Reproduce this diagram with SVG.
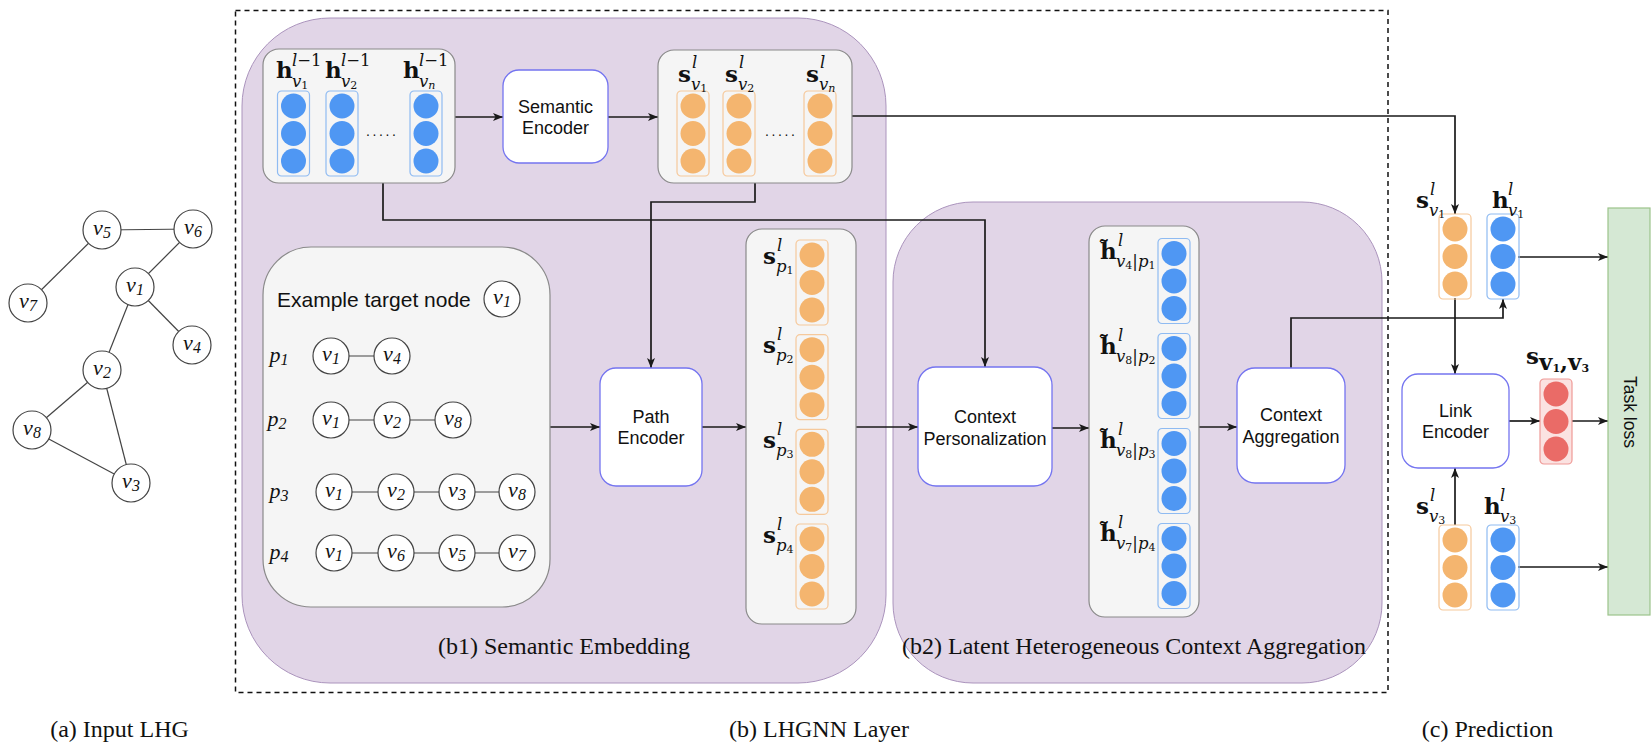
<svg xmlns="http://www.w3.org/2000/svg" xmlns:xlink="http://www.w3.org/1999/xlink" width="1651" height="744" viewBox="0 0 1651 744">
  <defs>
    <style>
      .panel { fill: #e1d5e7; stroke: #ab94bd; stroke-width: 1; }
      .gbox { fill: #f5f5f5; stroke: #8a8a8a; stroke-width: 1.2; }
      .enc { fill: #ffffff; stroke: #7474f0; stroke-width: 1.3; }
      .bcol { fill: none; stroke: #8fbbf2; stroke-width: 1.2; }
      .ocol { fill: none; stroke: #f6c99c; stroke-width: 1.2; }
      .rcol { fill: #fbe2e1; stroke: #ef9a97; stroke-width: 1.2; }
      .bdot { fill: #4f97f3; }
      .odot { fill: #f4b56f; }
      .rdot { fill: #ea6b67; }
      .sans { font-family: "Liberation Sans", Arial, sans-serif; fill: #111; }
      .enct { font-family: "Liberation Sans", Arial, sans-serif; font-size: 18px; fill: #111; text-anchor: middle; }
      .cap { font-family: "Liberation Serif", "Times New Roman", serif; font-size: 24px; fill: #111; text-anchor: middle; }
      .mb { font-family: "DejaVu Serif", serif; font-weight: bold; font-size: 23px; fill: #111; }
      .mi { font-family: "DejaVu Serif", serif; font-style: italic; font-size: 16.5px; fill: #111; }
      .mr { font-style: normal; }
      .ms { font-style: normal; font-size: 11px; }
      .msi { font-style: italic; font-size: 11px; }
      .vn { font-family: "Liberation Serif", "Times New Roman", serif; font-style: italic; font-size: 22px; fill: #111; text-anchor: middle; }
      .vd { font-size: 16px; }
      .gn { fill: #ffffff; stroke: #444; stroke-width: 1.2; }
      .ge { stroke: #444; stroke-width: 1.2; }
      .conn { fill: none; stroke: #1a1a1a; stroke-width: 1.7; }
    </style>
    <marker id="ah" viewBox="0 0 10 8" refX="10" refY="4" markerWidth="10" markerHeight="8" markerUnits="userSpaceOnUse" orient="auto">
      <path d="M0,0 L10,4 L0,8 L2.5,4 Z" fill="#1a1a1a"/>
    </marker>
    <g id="colB">
      <rect x="0" y="0" width="32" height="85" rx="4" class="bcol"/>
      <circle cx="16" cy="15" r="12.5" class="bdot"/>
      <circle cx="16" cy="42.5" r="12.5" class="bdot"/>
      <circle cx="16" cy="70" r="12.5" class="bdot"/>
    </g>
    <g id="colO">
      <rect x="0" y="0" width="32" height="85" rx="4" class="ocol"/>
      <circle cx="16" cy="15" r="12.5" class="odot"/>
      <circle cx="16" cy="42.5" r="12.5" class="odot"/>
      <circle cx="16" cy="70" r="12.5" class="odot"/>
    </g>
    <g id="colR">
      <rect x="0" y="0" width="32" height="85" rx="4" class="rcol"/>
      <circle cx="16" cy="15" r="12.5" class="rdot"/>
      <circle cx="16" cy="42.5" r="12.5" class="rdot"/>
      <circle cx="16" cy="70" r="12.5" class="rdot"/>
    </g>
  </defs>

  <rect width="1651" height="744" fill="#ffffff"/>

  <!-- (a) input graph -->
  <g id="input-graph">
    <line class="ge" x1="102" y1="230" x2="193" y2="229"/>
    <line class="ge" x1="102" y1="230" x2="28" y2="303"/>
    <line class="ge" x1="193" y1="229" x2="135" y2="287"/>
    <line class="ge" x1="135" y1="287" x2="192" y2="345"/>
    <line class="ge" x1="135" y1="287" x2="102" y2="370"/>
    <line class="ge" x1="102" y1="370" x2="32" y2="430"/>
    <line class="ge" x1="102" y1="370" x2="131" y2="483"/>
    <line class="ge" x1="32" y1="430" x2="131" y2="483"/>
    <g id="g-v5"><circle class="gn" cx="102" cy="230" r="19"/><text class="vn" x="102" y="235">v<tspan class="vd" dy="3">5</tspan></text></g>
    <g id="g-v6"><circle class="gn" cx="193" cy="229" r="19"/><text class="vn" x="193" y="234">v<tspan class="vd" dy="3">6</tspan></text></g>
    <g id="g-v7"><circle class="gn" cx="28" cy="303" r="19"/><text class="vn" x="28" y="308">v<tspan class="vd" dy="3">7</tspan></text></g>
    <g id="g-v1"><circle class="gn" cx="135" cy="287" r="19"/><text class="vn" x="135" y="292">v<tspan class="vd" dy="3">1</tspan></text></g>
    <g id="g-v4"><circle class="gn" cx="192" cy="345" r="19"/><text class="vn" x="192" y="350">v<tspan class="vd" dy="3">4</tspan></text></g>
    <g id="g-v2"><circle class="gn" cx="102" cy="370" r="19"/><text class="vn" x="102" y="375">v<tspan class="vd" dy="3">2</tspan></text></g>
    <g id="g-v8"><circle class="gn" cx="32" cy="430" r="19"/><text class="vn" x="32" y="435">v<tspan class="vd" dy="3">8</tspan></text></g>
    <g id="g-v3"><circle class="gn" cx="131" cy="483" r="19"/><text class="vn" x="131" y="488">v<tspan class="vd" dy="3">3</tspan></text></g>
  </g>

  <!-- (b) layer frame and panels -->
  <rect id="layer-frame" x="235.5" y="10.5" width="1152.5" height="682" fill="none" stroke="#111" stroke-width="1.5" stroke-dasharray="5 4"/>
  <g id="panel-b1">
    <rect class="panel" x="242" y="18" width="644" height="665" rx="88" ry="88"/>
    <text class="cap" x="564" y="654">(b1) Semantic Embedding</text>
  </g>
  <g id="panel-b2">
    <rect class="panel" x="893" y="202" width="489" height="481" rx="80" ry="80"/>
    <text class="cap" x="1134" y="654">(b2) Latent Heterogeneous Context Aggregation</text>
  </g>

  <!-- connectors -->
  <g id="connectors">
    <path class="conn" d="M455,117 L503,117" marker-end="url(#ah)"/>
    <path class="conn" d="M608,117 L658,117" marker-end="url(#ah)"/>
    <path class="conn" d="M852,116 L1455,116 L1455,214" marker-end="url(#ah)"/>
    <path class="conn" d="M383,183 L383,220 L985,220 L985,367" marker-end="url(#ah)"/>
    <path class="conn" d="M755,183 L755,202 L651,202 L651,368" marker-end="url(#ah)"/>
    <path class="conn" d="M550,427 L600,427" marker-end="url(#ah)"/>
    <path class="conn" d="M702,427 L746,427" marker-end="url(#ah)"/>
    <path class="conn" d="M856,427 L918,427" marker-end="url(#ah)"/>
    <path class="conn" d="M1052,428 L1089,428" marker-end="url(#ah)"/>
    <path class="conn" d="M1199,427 L1237,427" marker-end="url(#ah)"/>
    <path class="conn" d="M1291,368 L1291,318 L1503,318 L1503,299" marker-end="url(#ah)"/>
    <path class="conn" d="M1518,257 L1608,257" marker-end="url(#ah)"/>
    <path class="conn" d="M1455,298 L1455,374" marker-end="url(#ah)"/>
    <path class="conn" d="M1455,525 L1455,468" marker-end="url(#ah)"/>
    <path class="conn" d="M1509,421 L1540,421" marker-end="url(#ah)"/>
    <path class="conn" d="M1572,421 L1608,421" marker-end="url(#ah)"/>
    <path class="conn" d="M1518,567 L1608,567" marker-end="url(#ah)"/>
  </g>

  <!-- previous-layer hidden states -->
  <g id="h-prev">
    <rect class="gbox" x="263" y="49" width="192" height="134" rx="16"/>
    <use xlink:href="#colB" x="277.5" y="91"/>
    <use xlink:href="#colB" x="326" y="91"/>
    <use xlink:href="#colB" x="410" y="91"/>
    <text class="sans" x="366" y="135.5" font-size="14" letter-spacing="2.6">.....</text>
    <text class="mb" x="276" y="78">h</text>
    <text class="mi" x="292" y="66">l<tspan class="mr">−1</tspan></text>
    <text class="mi" x="292" y="87">v<tspan class="ms" dy="2">1</tspan></text>
    <text class="mb" x="325" y="78">h</text>
    <text class="mi" x="341" y="66">l<tspan class="mr">−1</tspan></text>
    <text class="mi" x="341" y="87">v<tspan class="ms" dy="2">2</tspan></text>
    <text class="mb" x="403" y="78">h</text>
    <text class="mi" x="419" y="66">l<tspan class="mr">−1</tspan></text>
    <text class="mi" x="419" y="87">v<tspan class="msi" dy="2">n</tspan></text>
  </g>

  <g id="semantic-encoder">
    <rect class="enc" x="503" y="70" width="105" height="93" rx="16"/>
    <text class="enct" x="555.5" y="113">Semantic</text>
    <text class="enct" x="555.5" y="134">Encoder</text>
  </g>

  <!-- semantic embeddings -->
  <g id="s-node">
    <rect class="gbox" x="658" y="50" width="194" height="133" rx="16"/>
    <use xlink:href="#colO" x="677" y="91"/>
    <use xlink:href="#colO" x="723" y="91"/>
    <use xlink:href="#colO" x="804" y="91"/>
    <text class="sans" x="765" y="135.5" font-size="14" letter-spacing="2.6">.....</text>
    <text class="mb" x="678" y="82">s</text>
    <text class="mi" x="692" y="68">l</text>
    <text class="mi" x="691" y="90">v<tspan class="ms" dy="2">1</tspan></text>
    <text class="mb" x="725" y="82">s</text>
    <text class="mi" x="739" y="68">l</text>
    <text class="mi" x="738" y="90">v<tspan class="ms" dy="2">2</tspan></text>
    <text class="mb" x="806" y="82">s</text>
    <text class="mi" x="820" y="68">l</text>
    <text class="mi" x="819" y="90">v<tspan class="msi" dy="2">n</tspan></text>
  </g>

  <!-- example paths of the target node -->
  <g id="example-paths">
    <rect class="gbox" x="263" y="247" width="287" height="360" rx="48"/>
    <text class="sans" x="277" y="307" font-size="21">Example target node</text>
    <circle class="gn" cx="502" cy="299" r="18"/>
    <text class="vn" x="502" y="304">v<tspan class="vd" dy="3">1</tspan></text>

    <text class="vn" x="279" y="362" text-anchor="start">p<tspan class="vd" dy="3">1</tspan></text>
    <text class="vn" x="277" y="426" text-anchor="start">p<tspan class="vd" dy="3">2</tspan></text>
    <text class="vn" x="279" y="498" text-anchor="start">p<tspan class="vd" dy="3">3</tspan></text>
    <text class="vn" x="279" y="559" text-anchor="start">p<tspan class="vd" dy="3">4</tspan></text>

    <line class="ge" x1="331" y1="356" x2="392" y2="356"/>
    <line class="ge" x1="331" y1="420" x2="453" y2="420"/>
    <line class="ge" x1="334" y1="492" x2="517" y2="492"/>
    <line class="ge" x1="334" y1="553" x2="517" y2="553"/>

    <circle class="gn" cx="331" cy="356" r="18"/><text class="vn" x="331" y="361">v<tspan class="vd" dy="3">1</tspan></text>
    <circle class="gn" cx="392" cy="356" r="18"/><text class="vn" x="392" y="361">v<tspan class="vd" dy="3">4</tspan></text>

    <circle class="gn" cx="331" cy="420" r="18"/><text class="vn" x="331" y="425">v<tspan class="vd" dy="3">1</tspan></text>
    <circle class="gn" cx="392" cy="420" r="18"/><text class="vn" x="392" y="425">v<tspan class="vd" dy="3">2</tspan></text>
    <circle class="gn" cx="453" cy="420" r="18"/><text class="vn" x="453" y="425">v<tspan class="vd" dy="3">8</tspan></text>

    <circle class="gn" cx="334" cy="492" r="18"/><text class="vn" x="334" y="497">v<tspan class="vd" dy="3">1</tspan></text>
    <circle class="gn" cx="396" cy="492" r="18"/><text class="vn" x="396" y="497">v<tspan class="vd" dy="3">2</tspan></text>
    <circle class="gn" cx="457" cy="492" r="18"/><text class="vn" x="457" y="497">v<tspan class="vd" dy="3">3</tspan></text>
    <circle class="gn" cx="517" cy="492" r="18"/><text class="vn" x="517" y="497">v<tspan class="vd" dy="3">8</tspan></text>

    <circle class="gn" cx="334" cy="553" r="18"/><text class="vn" x="334" y="558">v<tspan class="vd" dy="3">1</tspan></text>
    <circle class="gn" cx="396" cy="553" r="18"/><text class="vn" x="396" y="558">v<tspan class="vd" dy="3">6</tspan></text>
    <circle class="gn" cx="457" cy="553" r="18"/><text class="vn" x="457" y="558">v<tspan class="vd" dy="3">5</tspan></text>
    <circle class="gn" cx="517" cy="553" r="18"/><text class="vn" x="517" y="558">v<tspan class="vd" dy="3">7</tspan></text>
  </g>

  <g id="path-encoder">
    <rect class="enc" x="600" y="368" width="102" height="118" rx="16"/>
    <text class="enct" x="651" y="423">Path</text>
    <text class="enct" x="651" y="444">Encoder</text>
  </g>

  <!-- path embeddings -->
  <g id="s-paths">
    <rect class="gbox" x="746" y="229" width="110" height="395" rx="16"/>
    <use xlink:href="#colO" x="796" y="240"/>
    <use xlink:href="#colO" x="796" y="334.7"/>
    <use xlink:href="#colO" x="796" y="429.3"/>
    <use xlink:href="#colO" x="796" y="524"/>
    <text class="mb" x="763" y="264">s</text>
    <text class="mi" x="777" y="251">l</text>
    <text class="mi" x="776" y="272">p<tspan class="ms" dy="2">1</tspan></text>
    <text class="mb" x="763" y="353">s</text>
    <text class="mi" x="777" y="340">l</text>
    <text class="mi" x="776" y="361">p<tspan class="ms" dy="2">2</tspan></text>
    <text class="mb" x="763" y="448">s</text>
    <text class="mi" x="777" y="435">l</text>
    <text class="mi" x="776" y="456">p<tspan class="ms" dy="2">3</tspan></text>
    <text class="mb" x="763" y="543">s</text>
    <text class="mi" x="777" y="530">l</text>
    <text class="mi" x="776" y="551">p<tspan class="ms" dy="2">4</tspan></text>
  </g>

  <g id="context-personalization">
    <rect class="enc" x="918" y="367" width="134" height="119" rx="18"/>
    <text class="enct" x="985" y="423">Context</text>
    <text class="enct" x="985" y="445">Personalization</text>
  </g>

  <!-- personalized contexts -->
  <g id="h-contexts">
    <rect class="gbox" x="1089" y="226" width="110" height="391" rx="16"/>
    <use xlink:href="#colB" x="1158" y="238.5"/>
    <use xlink:href="#colB" x="1158" y="333.5"/>
    <use xlink:href="#colB" x="1158" y="428.5"/>
    <use xlink:href="#colB" x="1158" y="523.5"/>

    <text class="mb" x="1100" y="259">h&#x303;</text>
    <text class="mi" x="1118" y="246">l</text>
    <text class="mi" x="1116" y="267">v<tspan class="ms" dy="2">4</tspan><tspan class="mr" dy="-2">|</tspan>p<tspan class="ms" dy="2">1</tspan></text>

    <text class="mb" x="1100" y="354">h&#x303;</text>
    <text class="mi" x="1118" y="341">l</text>
    <text class="mi" x="1116" y="362">v<tspan class="ms" dy="2">8</tspan><tspan class="mr" dy="-2">|</tspan>p<tspan class="ms" dy="2">2</tspan></text>

    <text class="mb" x="1100" y="448">h&#x303;</text>
    <text class="mi" x="1118" y="435">l</text>
    <text class="mi" x="1116" y="456">v<tspan class="ms" dy="2">8</tspan><tspan class="mr" dy="-2">|</tspan>p<tspan class="ms" dy="2">3</tspan></text>

    <text class="mb" x="1100" y="541">h&#x303;</text>
    <text class="mi" x="1118" y="528">l</text>
    <text class="mi" x="1116" y="549">v<tspan class="ms" dy="2">7</tspan><tspan class="mr" dy="-2">|</tspan>p<tspan class="ms" dy="2">4</tspan></text>
  </g>

  <g id="context-aggregation">
    <rect class="enc" x="1237" y="368" width="108" height="115" rx="18"/>
    <text class="enct" x="1291" y="421">Context</text>
    <text class="enct" x="1291" y="443">Aggregation</text>
  </g>

  <!-- (c) prediction -->
  <g id="pred-v1">
    <use xlink:href="#colO" x="1439" y="214"/>
    <use xlink:href="#colB" x="1487" y="214"/>
    <text class="mb" x="1416" y="208">s</text>
    <text class="mi" x="1430" y="195">l</text>
    <text class="mi" x="1429" y="216">v<tspan class="ms" dy="2">1</tspan></text>
    <text class="mb" x="1492" y="208">h</text>
    <text class="mi" x="1508" y="195">l</text>
    <text class="mi" x="1508" y="216">v<tspan class="ms" dy="2">1</tspan></text>
  </g>

  <g id="link-encoder">
    <rect class="enc" x="1402" y="374" width="107" height="94" rx="16"/>
    <text class="enct" x="1455.5" y="417">Link</text>
    <text class="enct" x="1455.5" y="438">Encoder</text>
  </g>

  <g id="link-embedding">
    <use xlink:href="#colR" x="1540" y="379"/>
    <text class="mb" x="1526" y="364">s</text>
    <text class="mb" x="1539" y="370" font-size="15.5">v<tspan font-size="11" dy="2">1</tspan><tspan dy="-2">,</tspan>v<tspan font-size="11" dy="2">3</tspan></text>
  </g>

  <g id="pred-v3">
    <use xlink:href="#colO" x="1439" y="525"/>
    <use xlink:href="#colB" x="1487" y="525"/>
    <text class="mb" x="1416" y="514">s</text>
    <text class="mi" x="1430" y="501">l</text>
    <text class="mi" x="1429" y="522">v<tspan class="ms" dy="2">3</tspan></text>
    <text class="mb" x="1484" y="514">h</text>
    <text class="mi" x="1500" y="501">l</text>
    <text class="mi" x="1500" y="522">v<tspan class="ms" dy="2">3</tspan></text>
  </g>

  <g id="task-loss">
    <rect x="1608" y="208" width="42" height="407" fill="#d5e8d4" stroke="#9cc38a" stroke-width="1.2"/>
    <text class="sans" font-size="17.5" text-anchor="middle" transform="translate(1624,412) rotate(90)">Task loss</text>
  </g>

  <!-- captions -->
  <g id="captions">
    <text class="cap" x="119.5" y="737">(a) Input LHG</text>
    <text class="cap" x="819" y="737">(b) LHGNN Layer</text>
    <text class="cap" x="1487.5" y="737">(c) Prediction</text>
  </g>
</svg>
